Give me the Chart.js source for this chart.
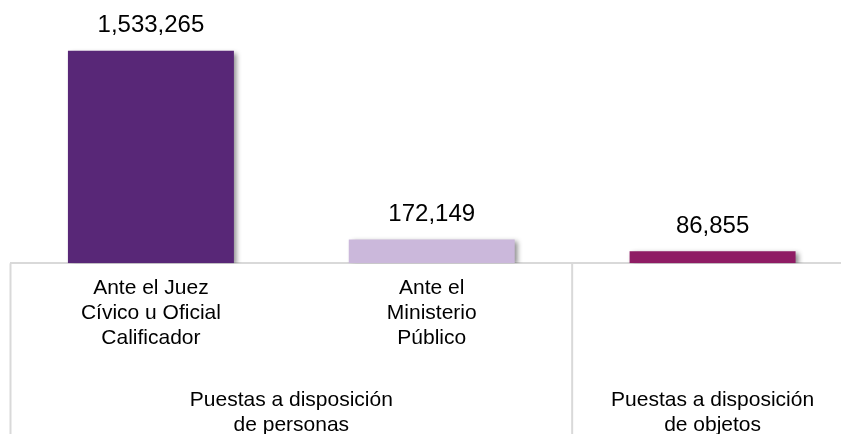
<!DOCTYPE html>
<html>
<head>
<meta charset="utf-8">
<script src="https://cdn.jsdelivr.net/npm/chart.js@4"></script>
<style>
  html, body { margin: 0; padding: 0; background: #fff; overflow: hidden; }
  #wrap { position: relative; width: 853px; height: 434px; }
</style>
</head>
<body>
<div id="wrap"><canvas id="chart"></canvas></div>
<script>
// datos
const categories = [
    ['Ante el Juez', 'Cívico u Oficial', 'Calificador'],
    ['Ante el', 'Ministerio', 'Público'],
    ''
];
const values = [1533265, 172149, 86855];
const barColors = ['#582777', '#CBB8DB', '#8F1C64'];
const groupLabels = [
    ['Puestas a disposición', 'de personas'],
    ['Puestas a disposición', 'de objetos']
];
const groupSpans = [[0, 1], [2, 2]];

const FONT = '"Liberation Sans", Arial, sans-serif';
const LINE = '#D9D9D9';

// sombra de las barras
const barShadow = {
    id: 'barShadow',
    beforeDatasetsDraw(chart) {
        const c = chart.ctx;
        c.save();
        c.shadowColor = 'rgba(0,0,0,0.45)';
        c.shadowBlur = 5;
        c.shadowOffsetX = 3;
        c.shadowOffsetY = 2;
    },
    afterDatasetsDraw(chart) {
        chart.ctx.restore();
    }
};

// etiquetas de valor, grupos y divisiones
const extras = {
    id: 'extras',
    afterDraw(chart) {
        const c = chart.ctx;
        const x = chart.scales.x;
        const area = chart.chartArea;
        const meta = chart.getDatasetMeta(0);

        c.save();
        c.fillStyle = '#000';
        c.font = '24px ' + FONT;
        c.textAlign = 'center';
        c.textBaseline = 'middle';
        meta.data.forEach((bar, i) => {
            c.fillText(values[i].toLocaleString('en-US'), bar.x, bar.y - 25);
        });

        // lineas verticales entre grupos
        c.strokeStyle = LINE;
        c.lineWidth = 2;
        const step = x.getPixelForValue(1) - x.getPixelForValue(0);
        const edges = [x.getPixelForValue(0) - step / 2];
        groupSpans.forEach(s => edges.push(x.getPixelForValue(s[1]) + step / 2));
        edges.forEach(px => {
            c.beginPath();
            c.moveTo(px, area.bottom);
            c.lineTo(px, chart.height);
            c.stroke();
        });

        c.font = '21px ' + FONT;
        groupSpans.forEach((s, g) => {
            const cx = (x.getPixelForValue(s[0]) + x.getPixelForValue(s[1])) / 2;
            groupLabels[g].forEach((t, k) => {
                c.fillText(t, cx, 400 + k * 25);
            });
        });
        c.restore();
    }
};

new Chart(document.getElementById('chart'), {
    type: 'bar',
    data: {
        labels: categories,
        datasets: [{
            data: values,
            backgroundColor: barColors,
            borderWidth: 0,
            categoryPercentage: 1,
            barPercentage: 0.591
        }]
    },
    options: {
        responsive: true,
        maintainAspectRatio: false,
        animation: false,
        devicePixelRatio: 1,
        layout: { padding: { left: 10.5, right: 0, top: 0, bottom: 71 } },
        plugins: {
            legend: { display: false },
            tooltip: { enabled: false }
        },
        scales: {
            x: {
                grid: { display: false, drawTicks: false },
                border: { display: true, color: LINE, width: 2 },
                ticks: {
                    color: '#000',
                    padding: 13,
                    maxRotation: 0,
                    autoSkip: false,
                    font: { family: FONT, size: 21, lineHeight: 1.17 }
                }
            },
            y: {
                display: false,
                min: 0,
                max: 1900000
            }
        }
    },
    plugins: [barShadow, extras]
});
</script>
</body>
</html>
